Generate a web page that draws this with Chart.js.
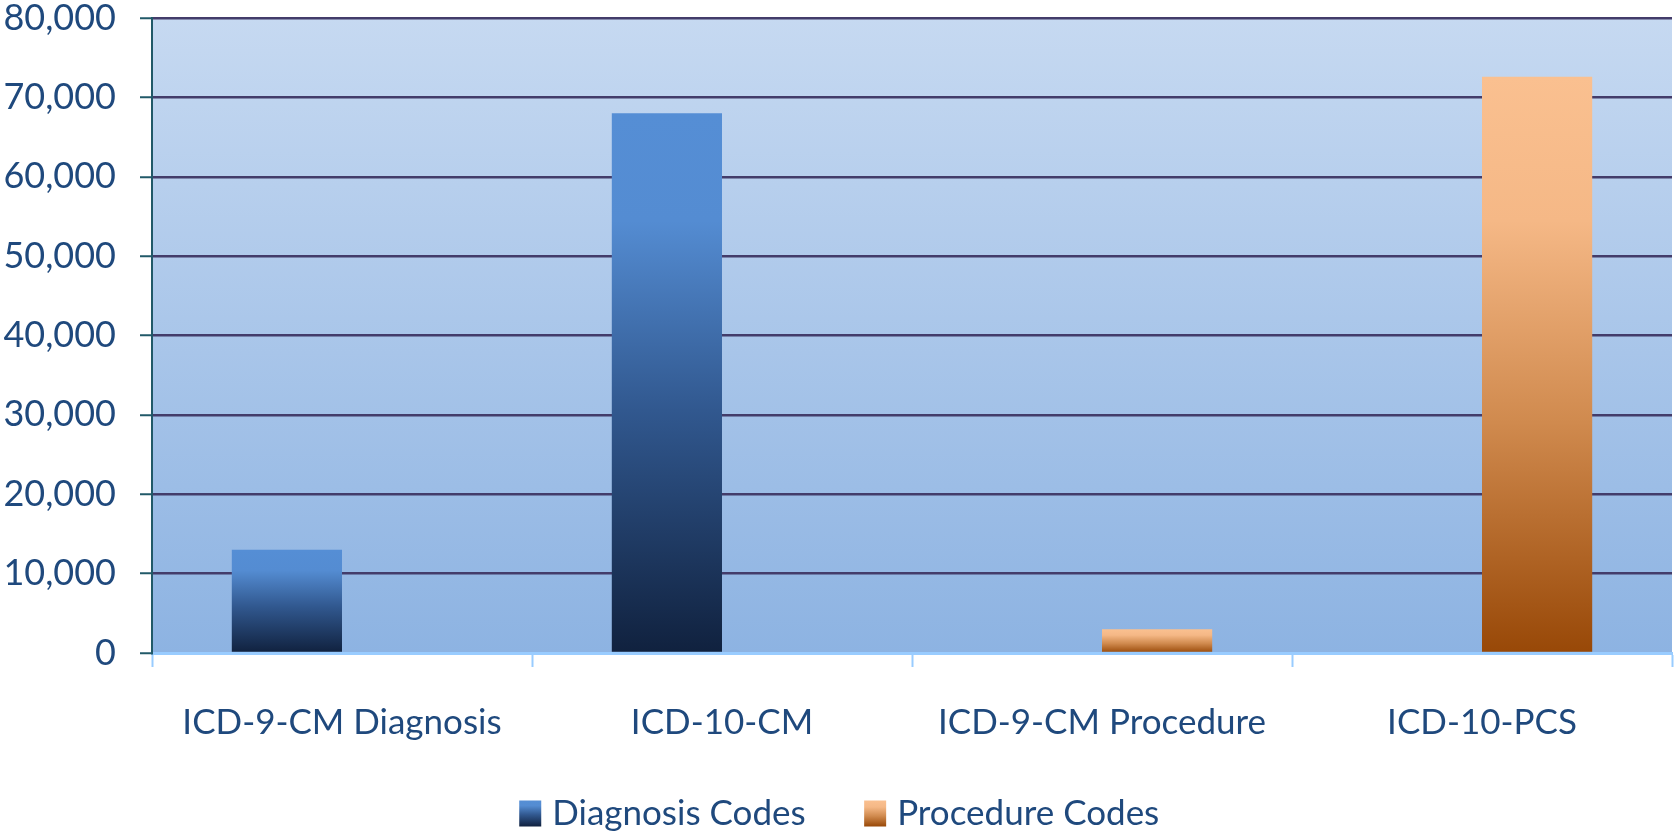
<!DOCTYPE html>
<html>
<head>
<meta charset="utf-8">
<script src="https://cdn.jsdelivr.net/npm/chart.js@4.4.1/dist/chart.umd.min.js"></script>
<style>
  html, body { margin: 0; padding: 0; background: #ffffff; }
  #wrap { width: 1674px; height: 835px; }
</style>
</head>
<body>
<div id="wrap"><canvas id="c" width="1674" height="835"></canvas></div>
<script>
const categories = ['ICD-9-CM Diagnosis', 'ICD-10-CM', 'ICD-9-CM Procedure', 'ICD-10-PCS'];
const seriesNames = ['Diagnosis Codes', 'Procedure Codes'];
const diagnosisValues = [13000, 68000, null, null];
const procedureValues = [null, null, 3000, 72600];
const yTickValues = [0, 10000, 20000, 30000, 40000, 50000, 60000, 70000, 80000];

const TEXT = '#1F497D';
const FONT = 'Lato, "Open Sans", sans-serif';

const diagStops = [[0, '#558ED5'], [0.2, '#548CD2'], [0.55, '#31588F'], [1, '#10213E']];
const procStops = [[0, '#FAC090'], [0.25, '#F5B886'], [0.6, '#D08A4E'], [1, '#984807']];

function makeGrad(c, x0, y0, x1, y1, stops) {
  const g = c.createLinearGradient(x0, y0, x1, y1);
  stops.forEach(s => g.addColorStop(s[0], s[1]));
  return g;
}

function barFill(stops) {
  return function (ctx) {
    const chart = ctx.chart;
    if (ctx.type !== 'data' || !chart.chartArea || !chart.scales.y) return stops[0][1];
    const v = ctx.raw;
    if (v === null || v === undefined) return 'rgba(0,0,0,0)';
    const ys = chart.scales.y;
    const top = ys.getPixelForValue(v);
    const base = ys.getPixelForValue(0);
    if (!isFinite(top) || !isFinite(base) || top === base) return stops[0][1];
    return makeGrad(chart.ctx, 0, top, 0, base, stops);
  };
}

const bgPlugin = {
  id: 'plotBg',
  beforeDraw(chart) {
    const a = chart.chartArea; if (!a) return;
    const c = chart.ctx;
    c.save();
    c.fillStyle = makeGrad(c, 0, a.top, 0, a.bottom, [[0, '#C6D9F1'], [1, '#8DB3E2']]);
    c.fillRect(a.left, a.top, a.right - a.left, a.bottom - a.top);
    c.restore();
  }
};

const LEG_BOX_W = 22, LEG_BOX_H = 26, LEG_FONT = 35;
const legendBoxPlugin = {
  id: 'legendBoxes',
  afterDraw(chart) {
    const lg = chart.legend; if (!lg || !lg.legendHitBoxes) return;
    const c = chart.ctx;
    const allStops = [diagStops, procStops];
    lg.legendHitBoxes.forEach((hb, i) => {
      const textStart = hb.left + LEG_BOX_W + LEG_FONT / 2;
      const x = textStart - 11 - LEG_BOX_W;
      const y = hb.top + (hb.height - LEG_BOX_H) / 2;
      c.save();
      c.fillStyle = makeGrad(c, 0, y, 0, y + LEG_BOX_H, allStops[i]);
      c.fillRect(x, y, LEG_BOX_W, LEG_BOX_H);
      c.restore();
    });
  }
};

new Chart(document.getElementById('c'), {
  type: 'bar',
  data: {
    labels: categories,
    datasets: [
      { label: seriesNames[0], data: diagnosisValues, backgroundColor: barFill(diagStops), borderWidth: 0 },
      { label: seriesNames[1], data: procedureValues, backgroundColor: barFill(procStops), borderWidth: 0 }
    ]
  },
  options: {
    responsive: false,
    animation: false,
    devicePixelRatio: 1,
    layout: { padding: { top: 0, right: 2, left: 0, bottom: -6 } },
    datasets: { bar: { categoryPercentage: 0.58, barPercentage: 1.0 } },
    plugins: {
      tooltip: { enabled: false },
      legend: {
        position: 'bottom',
        labels: {
          color: TEXT,
          font: { family: FONT, size: LEG_FONT },
          boxWidth: LEG_BOX_W,
          boxHeight: LEG_BOX_H,
          padding: 52,
          generateLabels(chart) {
            return chart.data.datasets.map((ds, i) => ({
              text: ds.label,
              fillStyle: 'rgba(0,0,0,0)',
              strokeStyle: 'rgba(0,0,0,0)',
              lineWidth: 0,
              hidden: false,
              datasetIndex: i,
              fontColor: TEXT
            }));
          }
        }
      }
    },
    scales: {
      x: {
        grid: {
          display: true,
          drawOnChartArea: false,
          drawTicks: true,
          tickLength: 14,
          tickColor: '#99CCFF',
          tickWidth: 2,
          offset: true
        },
        border: { display: true, color: '#99CCFF', width: 3 },
        ticks: {
          color: TEXT,
          font: { family: FONT, size: 35 },
          padding: 35,
          maxRotation: 0,
          autoSkip: false
        },
        afterFit(scale) { scale.height = 91; }
      },
      y: {
        min: 0,
        max: 80000,
        afterBuildTicks(scale) { scale.ticks = yTickValues.map(v => ({ value: v })); },
        grid: {
          color: (ctx) => (ctx.tick && ctx.tick.value === 0) ? 'rgba(0,0,0,0)' : '#433C6A',
          lineWidth: 2.5,
          tickColor: '#215968',
          tickWidth: 2,
          tickLength: 12,
          drawTicks: true
        },
        border: { display: true, color: '#215968', width: 2 },
        ticks: {
          color: TEXT,
          font: { family: FONT, size: 36, lineHeight: 1 },
          padding: 24,
          callback: (v) => Number(v).toLocaleString('en-US')
        },
        afterFit(scale) {
          scale.width = 152;
          scale.paddingTop = 18;
          scale.paddingBottom = 0;
        }
      }
    }
  },
  plugins: [bgPlugin, legendBoxPlugin]
});
</script>
</body>
</html>
